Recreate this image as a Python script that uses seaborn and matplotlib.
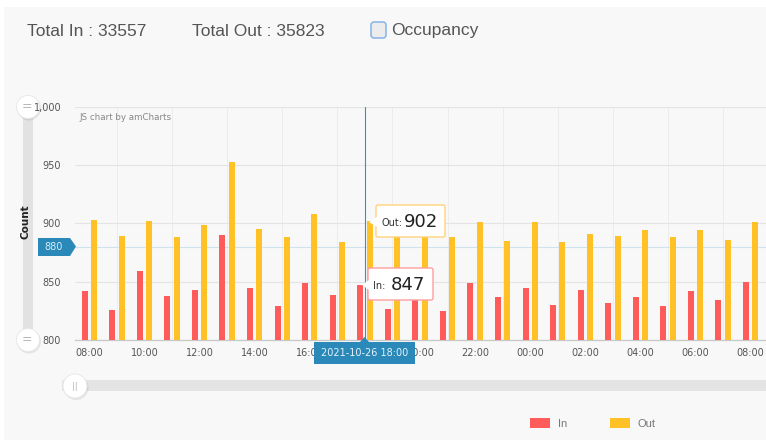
import matplotlib
matplotlib.use("Agg")
import matplotlib.pyplot as plt
import matplotlib.patches as mpatches
import matplotlib.transforms as mtransforms
import pandas as pd
import seaborn as sns

# ---------------- data ----------------
times = [
    "2021-10-26 08:00", "2021-10-26 09:00", "2021-10-26 10:00", "2021-10-26 11:00",
    "2021-10-26 12:00", "2021-10-26 13:00", "2021-10-26 14:00", "2021-10-26 15:00",
    "2021-10-26 16:00", "2021-10-26 17:00", "2021-10-26 18:00", "2021-10-26 19:00",
    "2021-10-26 20:00", "2021-10-26 21:00", "2021-10-26 22:00", "2021-10-26 23:00",
    "2021-10-27 00:00", "2021-10-27 01:00", "2021-10-27 02:00", "2021-10-27 03:00",
    "2021-10-27 04:00", "2021-10-27 05:00", "2021-10-27 06:00", "2021-10-27 07:00",
    "2021-10-27 08:00",
]
in_counts = [842, 826, 859, 838, 843, 890, 845, 829, 849, 839, 847, 827, 846,
             825, 849, 837, 845, 830, 843, 832, 837, 829, 842, 834, 850]
out_counts = [903, 889, 902, 888, 899, 953, 895, 888, 908, 884, 902, 890, 900,
              888, 901, 885, 901, 884, 891, 889, 894, 888, 894, 886, 901]
series = ["In", "Out"]
series_colors = ["#FF5B5B", "#FFC125"]
x_tick_labels = ["08:00", "10:00", "12:00", "14:00", "16:00", "18:00", "20:00",
                 "22:00", "00:00", "02:00", "04:00", "06:00", "08:00"]
y_ticks = [800, 850, 900, 950, 1000]
y_tick_labels = ["800", "850", "900", "950", "1,000"]
total_in = 33557
total_out = 35823
cursor_index = 10
cursor_value = 880

df = pd.DataFrame({
    "time": times * 2,
    "count": in_counts + out_counts,
    "type": ["In"] * len(times) + ["Out"] * len(times),
})

# ---------------- figure ----------------
sns.set_style("white")
plt.rcParams["font.family"] = ["DejaVu Sans"]

W, H = 766, 440
BLUE = "#2a89b9"
fig = plt.figure(figsize=(W / 100, H / 100), dpi=100, facecolor="white")
T = mtransforms.Affine2D().scale(1, -1).translate(0, H)  # pixel coords, origin top-left


def fx(x):
    return x / W


def fy(y):
    return 1 - y / H


def rect(x, y, w, h, **kw):
    p = mpatches.Rectangle((x, y), w, h, transform=T, **kw)
    fig.add_artist(p)
    return p


def rbox(x, y, w, h, r, **kw):
    p = mpatches.FancyBboxPatch((x, y), w, h, boxstyle=f"round,pad=0,rounding_size={r}",
                                transform=T, **kw)
    fig.add_artist(p)
    return p


def poly(pts, **kw):
    p = mpatches.Polygon(pts, closed=True, transform=T, **kw)
    fig.add_artist(p)
    return p


def circle(cx, cy, r, **kw):
    p = mpatches.Circle((cx, cy), r, transform=T, **kw)
    fig.add_artist(p)
    return p


# panel background
rect(4, 7, W, H, fc="#f8f8f8", ec="none", zorder=-5)

ax = fig.add_axes([fx(75), fy(340), (766 - 75) / W, (340 - 107) / H])
ax.set_facecolor("none")
sns.barplot(data=df, x="time", y="count", hue="type", order=times, hue_order=series,
            palette=series_colors, width=0.68, gap=0.36, saturation=1, linewidth=0,
            errorbar=None, legend=False, ax=ax, zorder=3)

ax.set_xlim(-0.52, 24.555)
ax.set_ylim(800, 1000)
shown_x_labels = [lab if i * 2 != cursor_index else "" for i, lab in enumerate(x_tick_labels)]
ax.set_xticks(range(0, len(times), 2))
ax.set_xticklabels(shown_x_labels, fontsize=7, color="#555555")
ax.set_xticks(range(len(times)), minor=True)
ax.set_yticks(y_ticks)
ax.set_yticklabels(y_tick_labels, fontsize=7, color="#555555")
ax.tick_params(axis="both", which="both", length=0)
ax.tick_params(axis="y", pad=10)
ax.tick_params(axis="x", pad=6)
ax.set_xlabel("")
ax.set_ylabel("")
ax.set_axisbelow(True)
ax.grid(axis="y", which="major", color="#e4e4e4", lw=0.8)
ax.grid(axis="x", which="minor", color="#ececec", lw=0.7)
for s in ["top", "right", "left"]:
    ax.spines[s].set_visible(False)
ax.spines["bottom"].set_color("#c8c8c8")
ax.spines["bottom"].set_linewidth(0.9)

# cursor lines
ax.axhline(cursor_value, color="#cfe3ee", lw=0.8, zorder=2)
ax.axvline(cursor_index, color="#3b8fc0", lw=0.8, zorder=5)

ax.text(0.006, 0.955, "JS chart by amCharts", transform=ax.transAxes, fontsize=6.3,
        color="#888888", va="center", ha="left")

# y label
fig.text(fx(25), fy(222), "Count", rotation=90, fontsize=7.5, fontweight="bold",
         color="#222222", ha="center", va="center", zorder=6)

# vertical scrollbar (behind the axes so tick labels stay on top)
rect(23, 107, 10, 233, fc="#e2e2e2", ec="none", zorder=-4)
for cy in (107, 340):
    circle(29, cy + 1.5, 12, fc="#000000", alpha=0.08, ec="none", zorder=-3)
    circle(28, cy, 11.5, fc="white", ec="#e6e6e6", lw=0.6, zorder=-2)
    fig.text(fx(27), fy(cy), "=", fontsize=9, color="#b5b5b5", ha="center",
             va="center", zorder=-1)

# horizontal scrollbar
rect(62, 380, 710, 11, fc="#e4e4e4", ec="none", zorder=1)
circle(76, 387.5, 12.5, fc="#000000", alpha=0.08, ec="none", zorder=4)
circle(75, 386, 12, fc="white", ec="#e6e6e6", lw=0.6, zorder=4)
fig.text(fx(75), fy(386), "||", fontsize=6, color="#b8b8b8", ha="center", va="center",
         zorder=5)

# left cursor value label
poly([(38, 238), (70, 238), (76, 246.5), (70, 256), (38, 256)], fc=BLUE, ec="none", zorder=6)
fig.text(fx(54), fy(247), f"{cursor_value}", fontsize=7, color="#d8ecf6", ha="center",
         va="center", zorder=7)

# bottom cursor date label
poly([(314, 342), (360, 342), (364.5, 337), (369, 342), (415, 342), (415, 364), (314, 364)],
     fc=BLUE, ec="none", zorder=6)
fig.text(fx(364.5), fy(353), times[cursor_index], fontsize=7, color="#e4f2fa",
         ha="center", va="center", zorder=7)

# tooltips
rbox(376, 205, 69, 32, 2, fc="white", ec="#ffd37a", lw=1.0, zorder=8)
poly([(369, 222), (377, 217), (377, 227)], fc="white", ec="none", zorder=9)
fig.text(fx(382), fy(223), "Out:", fontsize=7, color="#333333", ha="left", va="center",
         zorder=9)
fig.text(fx(404), fy(221.5), f"{out_counts[cursor_index]}", fontsize=13, color="#222222",
         ha="left", va="center", zorder=9)

rbox(368, 268, 65, 32, 2, fc="white", ec="#ff9e9e", lw=1.0, zorder=8)
poly([(362, 285), (369, 280), (369, 290)], fc="white", ec="none", zorder=9)
fig.text(fx(373), fy(286), "In:", fontsize=7, color="#333333", ha="left", va="center",
         zorder=9)
fig.text(fx(391), fy(284.5), f"{in_counts[cursor_index]}", fontsize=13, color="#222222",
         ha="left", va="center", zorder=9)

# header
hdr = dict(fontsize=12.5, color="#555555", ha="left", va="center",
           family=["Liberation Sans", "DejaVu Sans"])
fig.text(fx(27), fy(31), f"Total In : {total_in}", **hdr)
fig.text(fx(192), fy(31), f"Total Out : {total_out}", **hdr)
rbox(371, 22, 15, 16, 3, fc="#ececec", ec="#8db8e8", lw=1.2, zorder=3)
fig.text(fx(391), fy(30), "Occupancy", **hdr)

# legend
leg_x = [530, 610]
for lx, name, col in zip(leg_x, series, series_colors):
    rect(lx, 418, 20, 10, fc=col, ec="none", zorder=3)
    fig.text(fx(lx + 28), fy(423.5), name, fontsize=8, color="#777777", ha="left",
             va="center", family=["Liberation Sans", "DejaVu Sans"])

fig.savefig("out.png", dpi=100, facecolor=fig.get_facecolor())
